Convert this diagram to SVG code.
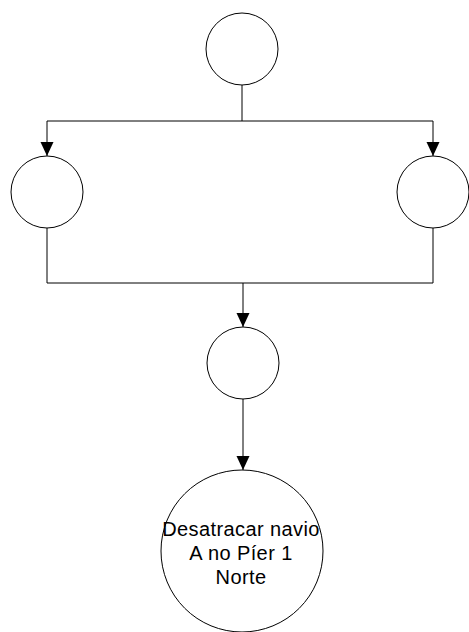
<svg xmlns="http://www.w3.org/2000/svg" width="469" height="632" viewBox="0 0 469 632">
<defs>
<style>
.node{fill:#fff;stroke:#000;stroke-width:1}
.conn{fill:none;stroke:#000;stroke-width:1}
.lbl{font-family:"Liberation Sans",Arial,sans-serif;font-size:20px;letter-spacing:0.4px;fill:#000;text-anchor:middle}
</style>
<marker id="arr" markerUnits="userSpaceOnUse" markerWidth="14" markerHeight="14" viewBox="0 0 14 14" refX="14" refY="7" orient="auto">
<path d="M0,0.5 L14,7 L0,13.5 Z" fill="#000"/>
</marker>
</defs>
<rect width="469" height="632" fill="#fff"/>
<g id="connectors">
<path class="conn" d="M242,85 V121"/>
<path class="conn" d="M47,121 H433"/>
<path class="conn" d="M47,121 V156" marker-end="url(#arr)"/>
<path class="conn" d="M433,121 V156" marker-end="url(#arr)"/>
<path class="conn" d="M47,228 V283 H433 V228"/>
<path class="conn" d="M243,283 V327" marker-end="url(#arr)"/>
<path class="conn" d="M243,399 V470" marker-end="url(#arr)"/>
</g>
<g id="node-top"><circle class="node" cx="242" cy="49" r="36"/></g>
<g id="node-left"><circle class="node" cx="47" cy="192" r="36"/></g>
<g id="node-right"><circle class="node" cx="433" cy="192" r="36"/></g>
<g id="node-middle"><circle class="node" cx="243" cy="363" r="36"/></g>
<g id="node-bottom">
<circle class="node" cx="242" cy="551" r="81"/>
<text class="lbl" x="241" y="536">Desatracar navio</text>
<text class="lbl" x="241" y="560">A no Píer 1</text>
<text class="lbl" x="241" y="584">Norte</text>
</g>
</svg>
